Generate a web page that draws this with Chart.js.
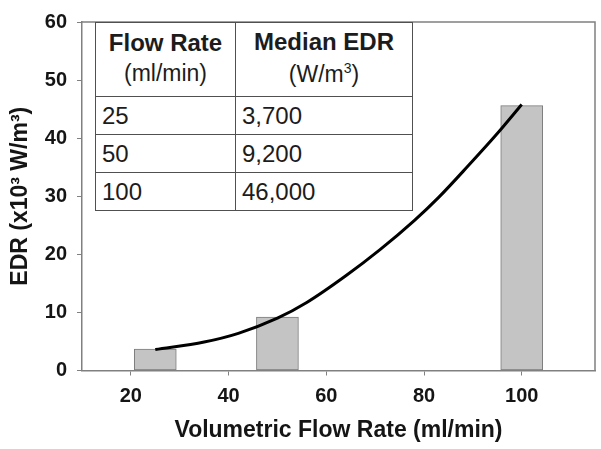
<!DOCTYPE html>
<html>
<head>
<meta charset="utf-8">
<script src="https://cdn.jsdelivr.net/npm/chart.js@4.4.1/dist/chart.umd.min.js"></script>
<style>
  html, body { margin: 0; padding: 0; background: #fff; }
  #wrap { position: relative; width: 601px; height: 449px; }
  #edrTable {
    position: absolute; left: 95px; top: 22px;
    border-collapse: collapse; background: #fff;
    font-family: 'Liberation Sans', Arial, sans-serif; color: #1c1c1c;
  }
  #edrTable td, #edrTable th {
    border: 1.5px solid #505050; padding: 0 0 0 6px;
    font-size: 24px; font-weight: normal; text-align: left;
    box-sizing: border-box; height: 38px; line-height: 1;
  }
  #edrTable th { text-align: center; height: 74px; padding: 0; }
  #edrTable th b { display: block; font-size: 24px; margin-bottom: 7px; margin-top: -3px; }
  #edrTable th span { display: block; font-size: 23px; }
  #edrTable sup { font-size: 14px; }
</style>
</head>
<body>
<div id="wrap">
  <canvas id="edrChart" width="601" height="449"></canvas>
  <table id="edrTable"></table>
</div>
<script>
// values
const flowRates = [25, 50, 100];                 // ml/min
const medianEDR = [3700, 9200, 46000];           // W/m3, from inset table
const barValues = [3.7, 9.2, 45.6];              // x10^3 W/m3
const fitX = [25, 35, 42, 50, 56, 64, 71, 78, 83, 89, 95, 100];
const fitY = [3.6, 4.9, 6.4, 9.0, 11.7, 16.3, 20.8, 25.8, 29.8, 35.2, 40.8, 45.8];
const xTicks = [20, 40, 60, 80, 100];
const yTicks = [0, 10, 20, 30, 40, 50, 60];

// inset table
const table = document.getElementById('edrTable');
let html = '<tr><th style="width:140px"><b>Flow Rate</b><span>(ml/min)</span></th>' +
           '<th style="width:177px"><b>Median EDR</b><span>(W/m<sup>3</sup>)</span></th></tr>';
flowRates.forEach((f, i) => {
    html += '<tr><td>' + f + '</td><td>' + medianEDR[i].toLocaleString('en-US') + '</td></tr>';
});
table.innerHTML = html;

const FONT = "'Liberation Sans', Arial, sans-serif";
const AXIS = '#808080';

// top and right edge of the plot frame
const framePlugin = {
    id: 'frame',
    afterDraw(chart) {
        const a = chart.chartArea, c = chart.ctx;
        c.save();
        c.strokeStyle = AXIS;
        c.lineWidth = 1.5;
        c.beginPath();
        c.moveTo(a.left, a.top);
        c.lineTo(a.right, a.top);
        c.lineTo(a.right, a.bottom);
        c.stroke();
        c.restore();
    }
};

new Chart(document.getElementById('edrChart'), {
    type: 'bar',
    data: {
        datasets: [
            {
                type: 'line',
                data: fitX.map((x, i) => ({ x: x, y: fitY[i] })),
                borderColor: '#000',
                borderWidth: 3,
                pointRadius: 0,
                cubicInterpolationMode: 'monotone',
                fill: false,
                order: 0
            },
            {
                type: 'bar',
                data: flowRates.map((x, i) => ({ x: x, y: barValues[i] })),
                backgroundColor: '#c4c4c4',
                borderColor: '#7c7c7c',
                borderWidth: 1,
                borderSkipped: false,
                barThickness: 42,
                order: 1
            }
        ]
    },
    options: {
        responsive: false,
        animation: false,
        layout: { padding: { top: 12, right: 6, left: 0, bottom: 0 } },
        plugins: { legend: { display: false }, tooltip: { enabled: false } },
        scales: {
            x: {
                type: 'linear',
                min: 10,
                max: 115,
                offset: false,
                afterBuildTicks: s => { s.ticks = xTicks.map(v => ({ value: v })); },
                afterFit: s => { s.height = 78.5; },
                grid: { offset: false, drawOnChartArea: false, tickLength: 5, color: AXIS },
                border: { color: AXIS, width: 1.5 },
                ticks: { font: { family: FONT, size: 20, weight: 'bold' }, color: '#151515', padding: 9, maxRotation: 0 },
                title: {
                    display: true,
                    text: 'Volumetric Flow Rate (ml/min)',
                    font: { family: FONT, size: 23, weight: 'bold' },
                    color: '#151515',
                    padding: { top: 0, bottom: 5 }
                }
            },
            y: {
                min: 0,
                max: 60,
                afterBuildTicks: s => { s.ticks = yTicks.map(v => ({ value: v })); },
                afterFit: s => { s.width = 82; },
                grid: { drawOnChartArea: false, tickLength: 5, color: AXIS },
                border: { color: AXIS, width: 1.5 },
                ticks: { font: { family: FONT, size: 20, weight: 'bold' }, color: '#151515', padding: 10 },
                title: {
                    display: true,
                    text: 'EDR (x10³ W/m³)',
                    font: { family: FONT, size: 23, weight: 'bold' },
                    color: '#151515',
                    padding: { top: 7, bottom: 0 }
                }
            }
        }
    },
    plugins: [framePlugin]
});
</script>
</body>
</html>
